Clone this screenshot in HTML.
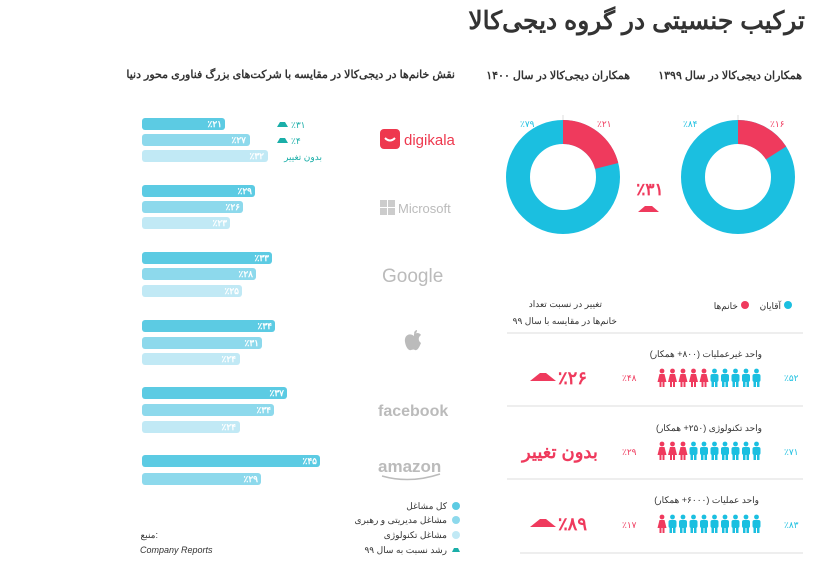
<!DOCTYPE html><html><head><meta charset="utf-8"><style>
body{margin:0;background:#fff;width:840px;height:560px;overflow:hidden;font-family:"Liberation Sans","Noto Sans CJK SC",sans-serif}
</style></head><body>
<svg width="840" height="560" xmlns="http://www.w3.org/2000/svg" font-family="Liberation Sans, Noto Sans CJK SC, sans-serif">
<defs>
<g id="m"><circle cx="0" cy="-7" r="2.4" fill="#1bbfe0"/><rect x="-4" y="-4" width="8" height="8" rx="2" fill="#1bbfe0"/><rect x="-3" y="3" width="2.5" height="6" fill="#1bbfe0"/><rect x="0.5" y="3" width="2.5" height="6" fill="#1bbfe0"/></g>
<g id="w"><circle cx="0" cy="-7" r="2.4" fill="#ef3a5d"/><path d="M-2.5,-4 L2.5,-4 L4.5,4 L-4.5,4Z" fill="#ef3a5d"/><rect x="-2.5" y="3" width="2" height="6" fill="#ef3a5d"/><rect x="0.5" y="3" width="2" height="6" fill="#ef3a5d"/></g>
</defs>
<text x="805" y="29" font-size="25" font-weight="bold" fill="#333" text-anchor="end">ترکیب جنسیتی در گروه دیجی‌کالا</text>
<text x="802" y="79" font-size="11" font-weight="bold" fill="#333" text-anchor="end">همکاران دیجی‌کالا در سال ۱۳۹۹</text>
<text x="630" y="79" font-size="11" font-weight="bold" fill="#333" text-anchor="end">همکاران دیجی‌کالا در سال ۱۴۰۰</text>
<text x="455" y="78" font-size="11" font-weight="bold" fill="#333" text-anchor="end">نقش خانم‌ها در دیجی‌کالا در مقایسه با شرکت‌های بزرگ فناوری محور دنیا</text>
<!-- donuts -->
<line x1="563" y1="115" x2="563" y2="135" stroke="#ddd"/><line x1="738" y1="115" x2="738" y2="135" stroke="#ddd"/>
<text x="520" y="127" font-size="9" fill="#1bbfe0">٪۷۹</text><text x="597" y="127" font-size="9" fill="#ef3a5d">٪۲۱</text>
<text x="683" y="127" font-size="9" fill="#1bbfe0">٪۸۴</text><text x="770" y="127" font-size="9" fill="#ef3a5d">٪۱۶</text>
<g transform="rotate(-90 563 177)"><circle cx="563" cy="177" r="45" fill="none" stroke="#1bbfe0" stroke-width="24"/><circle cx="563" cy="177" r="45" fill="none" stroke="#ef3a5d" stroke-width="24" stroke-dasharray="59.4 300"/></g>
<g transform="rotate(-90 738 177)"><circle cx="738" cy="177" r="45" fill="none" stroke="#1bbfe0" stroke-width="24"/><circle cx="738" cy="177" r="45" fill="none" stroke="#ef3a5d" stroke-width="24" stroke-dasharray="45.2 300"/></g>
<text x="650" y="195" font-size="17" font-weight="bold" fill="#ef3a5d" text-anchor="middle">٪۳۱</text>
<path d="M638,212 L645,206 L652,206 L659,212Z" fill="#ef3a5d"/>
<!-- legend -->
<circle cx="788" cy="305" r="4" fill="#1bbfe0"/><text x="781" y="309" font-size="9" fill="#333" text-anchor="end">آقایان</text>
<circle cx="745" cy="305" r="4" fill="#ef3a5d"/><text x="738" y="309" font-size="9" fill="#333" text-anchor="end">خانم‌ها</text>
<text x="602" y="307" font-size="9" fill="#333" text-anchor="end">تغییر در نسبت تعداد</text>
<text x="617" y="324" font-size="9" fill="#333" text-anchor="end">خانم‌ها در مقایسه با سال ۹۹</text>
<g stroke="#ddd"><line x1="507" y1="333" x2="803" y2="333"/><line x1="507" y1="406" x2="803" y2="406"/><line x1="507" y1="479" x2="803" y2="479"/><line x1="520" y1="553" x2="803" y2="553"/></g>
<text x="762" y="357" font-size="9" fill="#333" text-anchor="end">واحد غیرعملیات (۸۰۰+ همکار)</text>
<text x="762" y="431" font-size="9" fill="#333" text-anchor="end">واحد تکنولوژی (۲۵۰+ همکار)</text>
<text x="759" y="503" font-size="9" fill="#333" text-anchor="end">واحد عملیات (۶۰۰۰+ همکار)</text>
<g transform="translate(662,378)"><use href="#w"/><use href="#w" x="10.5"/><use href="#w" x="21"/><use href="#w" x="31.5"/><use href="#w" x="42"/><use href="#m" x="52.5"/><use href="#m" x="63"/><use href="#m" x="73.5"/><use href="#m" x="84"/><use href="#m" x="94.5"/></g>
<g transform="translate(662,451)"><use href="#w"/><use href="#w" x="10.5"/><use href="#w" x="21"/><use href="#m" x="31.5"/><use href="#m" x="42"/><use href="#m" x="52.5"/><use href="#m" x="63"/><use href="#m" x="73.5"/><use href="#m" x="84"/><use href="#m" x="94.5"/></g>
<g transform="translate(662,524)"><use href="#w"/><use href="#m" x="10.5"/><use href="#m" x="21"/><use href="#m" x="31.5"/><use href="#m" x="42"/><use href="#m" x="52.5"/><use href="#m" x="63"/><use href="#m" x="73.5"/><use href="#m" x="84"/><use href="#m" x="94.5"/></g>
<g font-size="9" fill="#1bbfe0"><text x="784" y="381">٪۵۲</text><text x="784" y="455">٪۷۱</text><text x="784" y="528">٪۸۳</text></g>
<g font-size="9" fill="#ef3a5d"><text x="622" y="381">٪۴۸</text><text x="622" y="455">٪۲۹</text><text x="622" y="528">٪۱۷</text></g>
<g font-size="18" font-weight="bold" fill="#ef3a5d"><text x="558" y="384">٪۲۶</text><text x="522" y="458">بدون تغییر</text><text x="558" y="530">٪۸۹</text></g>
<path d="M530,381 L540,373 L546,373 L556,381Z" fill="#ef3a5d"/><path d="M530,527 L540,519 L546,519 L556,527Z" fill="#ef3a5d"/>
<!-- bars -->
<g>
<rect x="142" y="118" width="83" height="12" rx="3" fill="#5ccbe3"/><rect x="142" y="134" width="108" height="12" rx="3" fill="#8dd9ec"/><rect x="142" y="150" width="126" height="12" rx="3" fill="#c1e9f5"/>
<rect x="142" y="185" width="113" height="12" rx="3" fill="#5ccbe3"/><rect x="142" y="201" width="101" height="12" rx="3" fill="#8dd9ec"/><rect x="142" y="217" width="88" height="12" rx="3" fill="#c1e9f5"/>
<rect x="142" y="252" width="130" height="12" rx="3" fill="#5ccbe3"/><rect x="142" y="268" width="114" height="12" rx="3" fill="#8dd9ec"/><rect x="142" y="285" width="100" height="12" rx="3" fill="#c1e9f5"/>
<rect x="142" y="320" width="133" height="12" rx="3" fill="#5ccbe3"/><rect x="142" y="337" width="120" height="12" rx="3" fill="#8dd9ec"/><rect x="142" y="353" width="98" height="12" rx="3" fill="#c1e9f5"/>
<rect x="142" y="387" width="145" height="12" rx="3" fill="#5ccbe3"/><rect x="142" y="404" width="132" height="12" rx="3" fill="#8dd9ec"/><rect x="142" y="421" width="98" height="12" rx="3" fill="#c1e9f5"/>
<rect x="142" y="455" width="178" height="12" rx="3" fill="#5ccbe3"/><rect x="142" y="473" width="119" height="12" rx="3" fill="#8dd9ec"/>
</g>
<g font-size="9" font-weight="bold" fill="#fff" text-anchor="end">
<text x="222" y="127">٪۲۱</text><text x="246" y="143">٪۲۷</text><text x="264" y="159">٪۳۲</text>
<text x="252" y="194">٪۲۹</text><text x="240" y="210">٪۲۶</text><text x="227" y="226">٪۲۳</text>
<text x="269" y="261">٪۳۳</text><text x="253" y="277">٪۲۸</text><text x="239" y="294">٪۲۵</text>
<text x="272" y="329">٪۳۴</text><text x="259" y="346">٪۳۱</text><text x="236" y="362">٪۲۴</text>
<text x="284" y="396">٪۳۷</text><text x="271" y="413">٪۳۴</text><text x="236" y="430">٪۲۴</text>
<text x="317" y="464">٪۴۵</text><text x="258" y="482">٪۲۹</text>
</g>
<path d="M277,127 L280,122 L285,122 L288,127Z" fill="#1aaea8"/><text x="291" y="128" font-size="9" fill="#1aaea8">٪۳۱</text>
<path d="M277,143 L280,138 L285,138 L288,143Z" fill="#1aaea8"/><text x="291" y="144" font-size="9" fill="#1aaea8">٪۴</text>
<text x="322" y="160" font-size="9" fill="#1aaea8" text-anchor="end">بدون تغییر</text>
<!-- logos -->
<rect x="380" y="129" width="20" height="20" rx="4" fill="#ee384e"/><path d="M385,138 Q390,143 395,138" stroke="#fff" stroke-width="2" fill="none"/>
<text x="404" y="145" font-size="15" fill="#ee384e">digikala</text>
<g fill="#ccc"><rect x="380" y="200" width="7" height="7"/><rect x="388" y="200" width="7" height="7"/><rect x="380" y="208" width="7" height="7"/><rect x="388" y="208" width="7" height="7"/></g>
<text x="398" y="213" font-size="13" fill="#bbb">Microsoft</text>
<text x="382" y="282" font-size="19" fill="#bbb">Google</text>
<path d="M414,336 c-5,-4 -10,0 -9,6 c1,6 4,9 6,8 c1,0 2,-1 4,0 c2,1 4,-2 6,-7 c-3,-2 -3,-6 0,-8 c-2,-3 -5,-2 -7,-1Z M414,334 c0,-3 2,-4 3,-4 c0,2 -1,4 -3,4Z" fill="#bbb"/>
<text x="378" y="416" font-size="16" font-weight="bold" fill="#bbb">facebook</text>
<text x="378" y="472" font-size="17" font-weight="bold" fill="#bbb">amazon</text>
<path d="M382,476 Q410,484 440,474" stroke="#bbb" stroke-width="1.5" fill="none"/>
<!-- bottom legend -->
<circle cx="456" cy="506" r="4" fill="#5ccbe3"/><text x="447" y="509" font-size="9" fill="#333" text-anchor="end">کل مشاغل</text>
<circle cx="456" cy="520" r="4" fill="#8dd9ec"/><text x="447" y="523" font-size="9" fill="#333" text-anchor="end">مشاغل مدیریتی و رهبری</text>
<circle cx="456" cy="535" r="4" fill="#c1e9f5"/><text x="447" y="538" font-size="9" fill="#333" text-anchor="end">مشاغل تکنولوژی</text>
<path d="M452,552 L454,548 L458,548 L460,552Z" fill="#1aaea8"/><text x="447" y="553" font-size="9" fill="#333" text-anchor="end">رشد نسبت به سال ۹۹</text>
<text x="158" y="538" font-size="9" fill="#333" text-anchor="end">منبع:</text>
<text x="140" y="553" font-size="9" font-style="italic" fill="#333">Company Reports</text>
</svg>
</body></html>
